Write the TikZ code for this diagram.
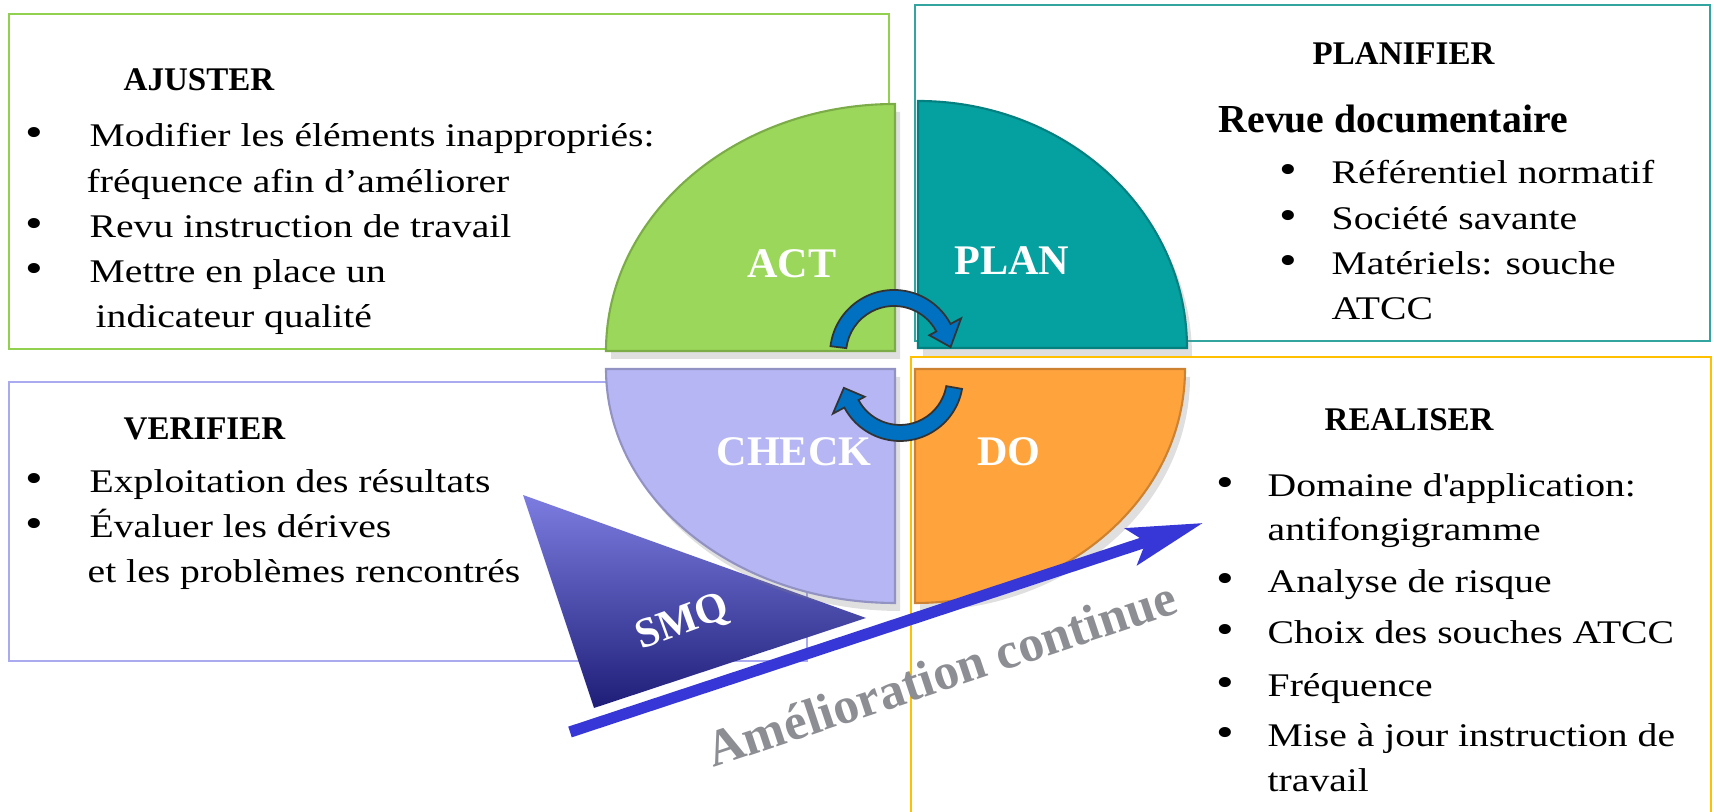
\documentclass[tikz,border=0pt]{standalone}
\usepackage{fontspec}
\setmainfont{Liberation Serif}[FakeStretch=1.2]
\newfontfamily\titrefont{Liberation Serif}
\usetikzlibrary{arrows.meta,shadows}
\definecolor{actcolor}{RGB}{155,215,90}
\definecolor{plancolor}{RGB}{5,160,160}
\definecolor{checkcolor}{RGB}{182,182,244}
\definecolor{docolor}{RGB}{255,163,60}
\definecolor{ajustercolor}{RGB}{146,208,80}
\definecolor{planifiercolor}{RGB}{50,165,160}
\definecolor{verifiercolor}{RGB}{170,170,240}
\definecolor{realisercolor}{RGB}{255,192,0}
\definecolor{smqhautcolor}{RGB}{125,125,225}
\definecolor{smqmilieucolor}{RGB}{55,55,205}
\definecolor{smqbascolor}{RGB}{30,30,120}
\definecolor{flechecolor}{RGB}{55,55,215}
\definecolor{bouclecolor}{RGB}{0,112,192}
\definecolor{ameliorcolor}{RGB}{140,142,148}

\begin{document}
\begin{tikzpicture}[
  texte/.style={font=\fontsize{9.4}{11}\selectfont, anchor=base west, inner sep=0},
  puce/.style={font=\fontsize{12}{14}\selectfont, anchor=base, inner sep=0},
  titre/.style={font=\titrefont\bfseries\fontsize{9.4}{11}\selectfont, anchor=base west, inner sep=0},
  secteur/.style={font=\titrefont\bfseries\fontsize{12}{14}\selectfont, text=white, anchor=base, inner sep=0},
  amelior/.style={font=\titrefont\bfseries\fontsize{14.6}{17}\selectfont, text=ameliorcolor, anchor=base, inner sep=0},
  quart/.style={draw=#1!80!black, line width=0.6pt, fill=#1,
    drop shadow={opacity=0.25, shadow xshift=0.5mm, shadow yshift=-0.8mm}},
  cadre/.style={draw=#1, line width=0.8pt},
  boucle/.style={fill=bouclecolor, draw=black!80, line width=0.5pt},
  fleche/.style={-{Stealth[length=7.5mm, width=3.8mm, inset=1.5mm]}, line width=3.2pt, draw=flechecolor}
]
  \useasboundingbox (0,0) rectangle (17.14,8.12);
  % cadres
  \draw[cadre=ajustercolor] (0.09,4.63) rectangle (8.89,7.98);
  \draw[cadre=planifiercolor] (9.15,4.71) rectangle (17.10,8.07);
  \draw[cadre=verifiercolor] (0.09,1.51) rectangle (8.07,4.30);
  \draw[cadre=realisercolor] (9.11,0) |- (17.11,4.55) -- (17.11,0);
  % SMQ
  \shade[top color=smqhautcolor, middle color=smqmilieucolor, bottom color=smqbascolor]
    (5.23,3.17) -- (5.94,1.04) -- (8.66,1.94) -- cycle;
  \node[secteur, anchor=center, rotate=20] (smq) at (6.83,1.89) {SMQ};
  % roue PDCA
  \path[quart=actcolor] (8.95,4.61) -- (6.06,4.61) arc[start angle=180, end angle=90, x radius=2.89, y radius=2.47] -- cycle;
  \path[quart=plancolor] (9.18,4.64) -- (9.18,7.11) arc[start angle=90, end angle=0, x radius=2.69, y radius=2.47] -- cycle;
  \path[quart=checkcolor] (8.95,4.43) -- (6.06,4.43) arc[start angle=180, end angle=270, x radius=2.89, y radius=2.34] -- cycle;
  \path[quart=docolor] (9.15,4.43) -- (11.85,4.43) arc[start angle=0, end angle=-90, x radius=2.70, y radius=2.34] -- cycle;
  \node[secteur] (act) at (7.92,5.34) {ACT};
  \node[secteur] (plan) at (10.12,5.37) {PLAN};
  \node[secteur] (check) at (7.94,3.46) {CHECK};
  \node[secteur] (do) at (10.09,3.46) {DO};
  % fleches du cycle
  \begin{scope}[shift={(8.94,4.58)}]
    \path[boucle] (173:0.64) arc[start angle=173, end angle=28, radius=0.64] -- (28:0.76)
      -- (7:0.57) -- (28:0.40) -- (28:0.48) arc[start angle=28, end angle=173, radius=0.48] -- cycle;
  \end{scope}
  \begin{scope}[shift={(9.00,4.34)}]
    \path[boucle] (-10:0.63) arc[start angle=-10, end angle=-152, radius=0.63] -- (-152:0.76)
      -- (-170:0.57) -- (-152:0.40) -- (-152:0.47) arc[start angle=-152, end angle=-10, radius=0.47] -- cycle;
  \end{scope}
  % amelioration continue
  \coordinate (queue) at (5.70,0.80);
  \coordinate (pointe) at (12.03,2.89);
  \draw[fleche] (queue) -- (pointe);
  \node[amelior, rotate=18.5] (amelioration) at (9.47,1.22) {Amélioration continue};
  % AJUSTER
  \node[titre] (ajuster) at (1.23,7.21) {AJUSTER};
  \foreach \x/\y/\t [count=\i] in {0.89/6.65/Modifier les éléments inappropriés:,
      0.86/6.19/fréquence afin d’améliorer, 0.89/5.74/Revu instruction de travail,
      0.89/5.29/Mettre en place un, 0.95/4.84/indicateur qualité}
    { \node[texte] (ajuster-\i) at (\x,\y) {\t}; }
  \foreach \y [count=\i] in {6.65,5.74,5.29} { \node[puce] (ajuster-puce-\i) at (0.34,\y) {\textbullet}; }
  % VERIFIER
  \node[titre] (verifier) at (1.23,3.72) {VERIFIER};
  \foreach \x/\y/\t [count=\i] in {0.89/3.19/Exploitation des résultats,
      0.89/2.74/Évaluer les dérives, 0.87/2.29/et les problèmes rencontrés}
    { \node[texte] (verifier-\i) at (\x,\y) {\t}; }
  \foreach \y [count=\i] in {3.19,2.74} { \node[puce] (verifier-puce-\i) at (0.34,\y) {\textbullet}; }
  % PLANIFIER
  \node[titre] (planifier) at (13.12,7.47) {PLANIFIER};
  \node[titre, font=\titrefont\bfseries\fontsize{11.3}{13}\selectfont] (revue) at (12.18,6.79) {Revue documentaire};
  \foreach \y/\t [count=\i] in {6.28/Référentiel normatif, 5.82/Société savante,
      5.37/Matériels: souche, 4.92/ATCC}
    { \node[texte] (planifier-\i) at (13.31,\y) {\t}; }
  \foreach \y [count=\i] in {6.28,5.82,5.37} { \node[puce] (planifier-puce-\i) at (12.88,\y) {\textbullet}; }
  % REALISER
  \node[titre] (realiser) at (13.24,3.81) {REALISER};
  \foreach \y/\t [count=\i] in {3.15/Domaine d\textquotesingle application:, 2.71/antifongigramme,
      2.19/Analyse de risque, 1.68/Choix des souches ATCC, 1.15/Fréquence,
      0.65/Mise à jour instruction de, 0.20/travail}
    { \node[texte] (realiser-\i) at (12.67,\y) {\t}; }
  \foreach \y [count=\i] in {3.15,2.19,1.68,1.15,0.65} { \node[puce] (realiser-puce-\i) at (12.25,\y) {\textbullet}; }
\end{tikzpicture}
\end{document}
